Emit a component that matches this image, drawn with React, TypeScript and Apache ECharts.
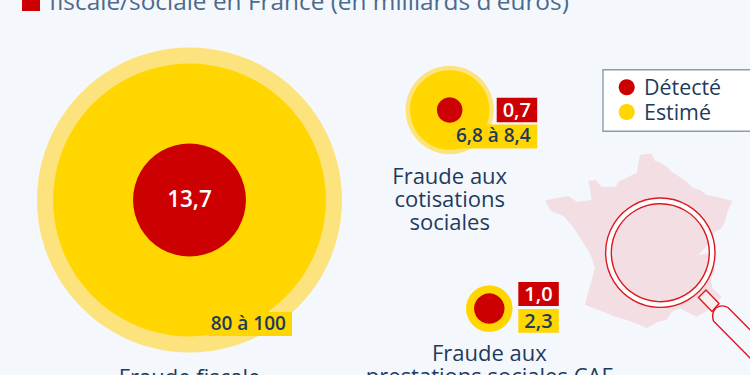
import React, { useEffect, useRef } from "react";
import * as echarts from "echarts";

const categories = ["Fraude fiscale", "Fraude aux cotisations sociales", "Fraude aux prestations sociales CAF"];
const detected = [13.7, 0.7, 1.0];
const estimatedLow = [80, 6.8, 2.3];
const estimatedHigh = [100, 8.4, 2.3];
const detectedLabels = ["13,7", "0,7", "1,0"];
const estimatedLabels = ["80 à 100", "6,8 à 8,4", "2,3"];
const legendLabels = ["Détecté", "Estimé"];
const titleText = "fiscale/sociale en France (en milliards d'euros)";

const W = 750, H = 375;
const centres = [[189.5, 200], [449.7, 110], [489.3, 308.6]];
const radiusPerRootUnit = 15.25;
const RED = "#cc0000", YEL = "#ffd600", PALE = "#fde37e", DARK = "#1f3a5c", BG = "#f4f8fc", TITLE = "#4c6a8e", PINK = "#f3dfe3", LINE = "#e0161e";

const size = (v: number) => 2 * radiusPerRootUnit * Math.sqrt(v);
const bubbles = (vals: number[], name: string, color: string, z: number) => ({
  type: "scatter", name, z, silent: true,
  itemStyle: { color, opacity: 1 },
  symbol: "circle",
  data: vals.map((v, i) => ({ value: [centres[i][0], centres[i][1], v], symbolSize: size(v) })),
});

const francePx = [
  [330,45],[345,42],[365,42],[375,62],[395,70],[410,80],[425,95],[440,105],[470,125],[490,145],[510,150],[530,165],[560,170],[607,183],
  [592,215],[585,245],[575,265],[555,275],[540,300],[528,320],[505,345],[535,340],[550,365],[555,390],[542,420],[548,445],[575,470],
  [545,505],[500,530],[450,505],[425,515],[410,540],[385,545],[350,565],[330,555],[290,540],[255,530],[220,515],[165,495],[178,445],[195,385],
  [182,345],[155,300],[130,262],[100,228],[62,212],[45,182],[75,175],[115,168],[140,185],[185,180],[175,122],[197,120],[215,140],[258,140],[265,125],[320,98],
];
const france = francePx.map(([x, y]) => [530 + x / 3, 140 + y / 3]);

echarts.graphic.registerShape("loupeHandle", echarts.graphic.extendPath(
  "M 713.5 321 Q 711 313 716 308 Q 722 304 728 307.5 L 760 340 M 713.5 321 L 760 368", {}));

const txt = (text: string, x: number, y: number, size: number, fill: string, align = "center", weight: any = 400) => ({
  type: "text", x, y, z: 20, silent: true,
  style: { text, fill, font: `${weight} ${size}px "Open Sans"`, textAlign: align, textVerticalAlign: "middle" },
});
const box = (x: number, y: number, w: number, h: number, fill: string) => ({
  type: "rect", z: 15, silent: true, shape: { x, y, width: w, height: h }, style: { fill },
});

export default function App() {
  const ref = useRef<HTMLDivElement>(null);
  useEffect(() => {
    document.body.style.margin = "0";
    const chart = echarts.init(ref.current!, undefined, { renderer: "svg" });
    chart.setOption({
      animation: false,
      backgroundColor: BG,
      grid: { left: 0, right: 0, top: 0, bottom: 0 },
      xAxis: { type: "value", min: 0, max: W, show: false },
      yAxis: { type: "value", min: 0, max: H, inverse: true, show: false },
      series: [
        bubbles(estimatedHigh, "Estimé (haut)", PALE, 3),
        bubbles(estimatedLow, "Estimé", YEL, 4),
        bubbles(detected, "Détecté", RED, 5),
      ],
      graphic: [
        // Title
        box(22, -8, 18, 19, RED),
        txt(titleText, 49, 0, 24.4, TITLE, "left"),
        // France + loupe
        { type: "polygon", z: 1, silent: true, shape: { points: france }, style: { fill: PINK } },
        { type: "ring", z: 6, silent: true, shape: { cx: 660.3, cy: 252.7, r: 54.7, r0: 49.3 }, style: { fill: "#ffffff" } },
        { type: "circle", z: 7, silent: true, shape: { cx: 660.3, cy: 252.7, r: 54.7 }, style: { fill: "none", stroke: LINE, lineWidth: 1.4 } },
        { type: "circle", z: 7, silent: true, shape: { cx: 660.3, cy: 252.7, r: 49 }, style: { fill: "none", stroke: LINE, lineWidth: 1.4 } },
        { type: "polygon", z: 6, silent: true, shape: { points: [[698.5, 297.5], [706, 290], [719, 303.5], [712, 311.5]] }, style: { fill: "#f9eef0", stroke: LINE, lineWidth: 1.4 } },
        { type: "loupeHandle", z: 7, silent: true, style: { fill: "none", stroke: LINE, lineWidth: 1.4 } },
        // Legend
        { type: "rect", z: 8, silent: true, shape: { x: 603, y: 69.7, width: 160, height: 61.5 }, style: { fill: "#ffffff", stroke: "#8c9cb0", lineWidth: 1.4 } },
        { type: "circle", z: 9, silent: true, shape: { cx: 626.7, cy: 87.2, r: 8 }, style: { fill: RED } },
        { type: "circle", z: 9, silent: true, shape: { cx: 626.7, cy: 112, r: 8 }, style: { fill: YEL } },
        txt(legendLabels[0], 644, 86.5, 21.4, DARK, "left"),
        txt(legendLabels[1], 644, 111.5, 21.4, DARK, "left"),
        // Value labels
        txt(detectedLabels[0], 189.5, 198, 22.5, "#ffffff", "center", 600),
        box(208, 312, 84, 24, YEL),
        txt(estimatedLabels[0], 248.3, 323, 19, DARK, "center", 600),
        box(496.7, 97.7, 40.5, 24.5, RED),
        txt(detectedLabels[1], 516.8, 109, 20, "#ffffff", "center", 600),
        box(456, 124.5, 81.2, 24, YEL),
        txt(estimatedLabels[1], 493.3, 135, 19, DARK, "center", 600),
        box(518.3, 282, 40.5, 24, RED),
        txt(detectedLabels[2], 538.5, 293, 20, "#ffffff", "center", 600),
        box(518.3, 309, 40.5, 23.7, YEL),
        txt(estimatedLabels[2], 538.5, 320, 20, DARK, "center", 600),
        // Category labels
        txt(categories[0], 189.5, 376, 22, DARK),
        txt("Fraude aux", 449.7, 175, 22, DARK),
        txt("cotisations", 449.7, 198, 22, DARK),
        txt("sociales", 449.7, 221, 22, DARK),
        txt("Fraude aux", 489.3, 351.5, 22, DARK),
        txt("prestations sociales CAF", 489.3, 375, 22, DARK),
      ],
    });
    return () => chart.dispose();
  }, []);
  return <div ref={ref} style={{ width: W, height: H }} />;
}
